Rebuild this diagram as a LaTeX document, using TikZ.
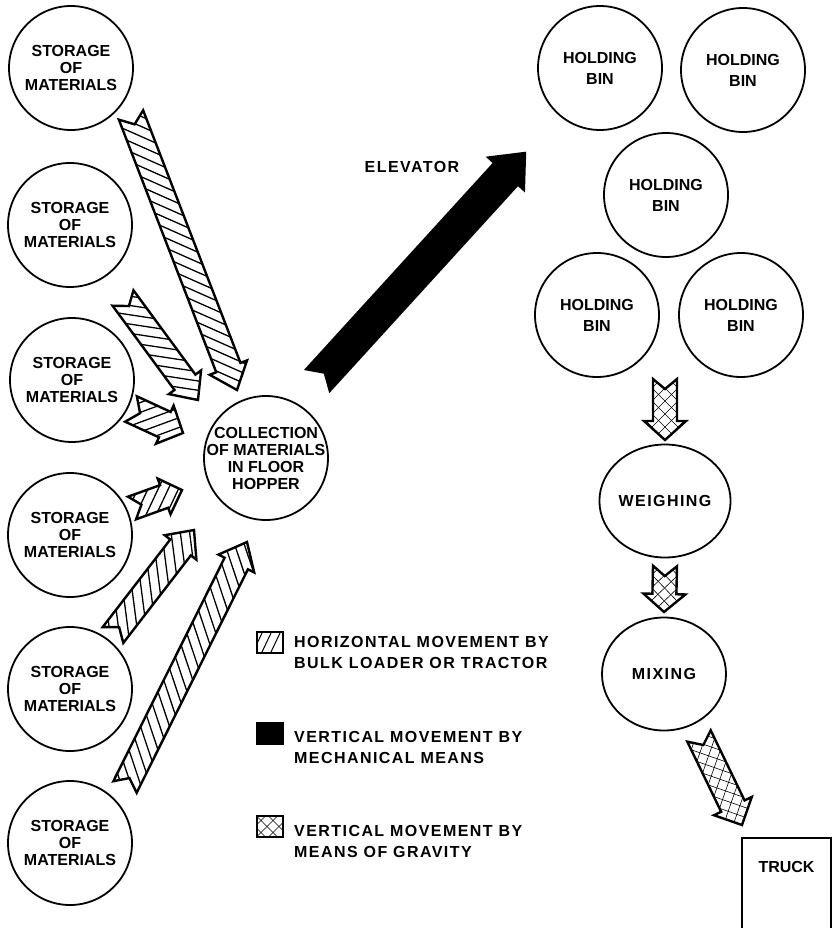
\documentclass[tikz,border=0pt]{standalone}
\usepackage{fontspec}
\newfontfamily\lettering{Liberation Sans}
\newfontfamily\spaced{Liberation Sans}[LetterSpace=9]
\usetikzlibrary{shapes.geometric}

\tikzset{
  word/.style={align=center, inner sep=0pt, font=\lettering\bfseries\fontsize{16}{17}\selectfont},
  store/.style={word, circle, draw, line width=1.8pt, minimum size=124pt},
  stage/.style={ellipse, draw, line width=1.8pt, minimum width=124pt, minimum height=113pt,
                inner sep=0pt, font=\spaced\bfseries\fontsize{16}{17}\selectfont},
  keybox/.style={draw, line width=2pt, minimum width=26pt, minimum height=21pt, inner sep=0pt},
  keytext/.style={align=left, inner sep=0pt, font=\spaced\bfseries\fontsize{16}{21}\selectfont},
  rim/.style={line width=2.4pt, line join=miter},
  hatchline/.style={line width=1.3pt},
  gridline/.style={line width=0.6pt}
}

% fillings for the big arrows (local frame, arrow along x)
\def\hatchfill{\foreach \t in {-60,-47,...,400} \draw[hatchline] (\t pt,-30pt) -- ++(60pt,60pt);}
\def\crossfill{\foreach \t in {-60,-47,...,400} {\draw[gridline] (\t pt,-30pt) -- ++(60pt,60pt);
                                                  \draw[gridline] (\t pt,30pt) -- ++(60pt,-60pt);}}
\def\solidfill{\fill (-10pt,-40pt) rectangle (400pt,40pt);}

% #1 filling, #2 tail, #3 tip, #4 half body, #5 half head, #6 head length
\newcommand{\flowarrow}[6]{%
  \path (#2); \pgfgetlastxy{\ax}{\ay}%
  \path (#3); \pgfgetlastxy{\bx}{\by}%
  \pgfmathsetmacro{\ang}{atan2(\by-\ay,\bx-\ax)}%
  \pgfmathsetmacro{\len}{veclen(\bx-\ax,\by-\ay)}%
  \pgfmathsetmacro{\neck}{\len-#6}%
  \def\outline{(0pt,#4pt) -- (\neck pt,#4pt) -- (\neck pt,#5pt) -- (\len pt,0pt)
    -- (\neck pt,-#5pt) -- (\neck pt,-#4pt) -- (0pt,-#4pt) -- (10pt,0pt) -- cycle}%
  \begin{scope}[shift={(\ax,\ay)},rotate=\ang]
    \begin{scope}
      \clip \outline;
      #1
    \end{scope}
    \draw[rim] \outline;
  \end{scope}}

\begin{document}
\begin{tikzpicture}[x=1pt,y=-1pt]
  \useasboundingbox[fill=white] (0,0) rectangle (834,928);

  % storage on the left
  \node[store] (s1) at (71,68)  {STORAGE\\OF\\MATERIALS};
  \node[store] (s2) at (70,225) {STORAGE\\OF\\MATERIALS};
  \node[store] (s3) at (72,380) {STORAGE\\OF\\MATERIALS};
  \node[store] (s4) at (70,535) {STORAGE\\OF\\MATERIALS};
  \node[store] (s5) at (70,689) {STORAGE\\OF\\MATERIALS};
  \node[store] (s6) at (70,843) {STORAGE\\OF\\MATERIALS};

  \node[store] (hopper) at (266,458) {};
  \node[word] (hoppertext) at (hopper) {COLLECTION\\OF MATERIALS\\IN FLOOR\\HOPPER};

  % bins, scale, mixer
  \node[store] (bin1) at (600,68)  {HOLDING\\[4pt]BIN};
  \node[store] (bin2) at (743,70)  {HOLDING\\[4pt]BIN};
  \node[store] (bin3) at (666,195) {HOLDING\\[4pt]BIN};
  \node[store] (bin4) at (597,315) {HOLDING\\[4pt]BIN};
  \node[store] (bin5) at (741,315) {HOLDING\\[4pt]BIN};
  \node[stage] (weigh) at (665,501) {WEIGHING};
  \node[stage] (mix) at (664,674) {MIXING};

  \node[word, minimum width=89pt, minimum height=58pt, anchor=north] (truck) at (786.5,838) {TRUCK};
  \draw[line width=1.8pt] ([yshift=-95pt]truck.north west) -- (truck.north west)
    -- (truck.north east) -- ([yshift=-95pt]truck.north east);

  \node[font=\spaced\bfseries\fontsize{16}{17}\selectfont] (elev) at (412,167) {ELEVATOR};

  % arrow ends
  \coordinate (a1t) at (131,115);  \coordinate (a1h) at (237,390);
  \coordinate (a2t) at (123,298);  \coordinate (a2h) at (198,400);
  \coordinate (a3t) at (131,409);  \coordinate (a3h) at (183,433);
  \coordinate (a4t) at (132,508);  \coordinate (a4h) at (182,490);
  \coordinate (a5t) at (113,635);  \coordinate (a5h) at (194,530);
  \coordinate (a6t) at (125,787);  \coordinate (a6h) at (247,542);
  \coordinate (lift t) at (318,380); \coordinate (lift h) at (525,153);
  \coordinate (g1t) at (665,379);  \coordinate (g1h) at (665,440);
  \coordinate (g2t) at (665,566);  \coordinate (g2h) at (664,612);
  \coordinate (g3t) at (699,736);  \coordinate (g3h) at (742,825);

  \flowarrow{\hatchfill}{a1t}{a1h}{13}{20}{24}
  \flowarrow{\hatchfill}{a2t}{a2h}{13}{20}{22}
  \flowarrow{\hatchfill}{a3t}{a3h}{14}{21}{20}
  \flowarrow{\hatchfill}{a4t}{a4h}{12}{19}{19}
  \flowarrow{\hatchfill}{a5t}{a5h}{13}{20}{22}
  \flowarrow{\hatchfill}{a6t}{a6h}{13}{20}{24}
  \flowarrow{\solidfill}{lift t}{lift h}{16}{24}{28}
  \flowarrow{\crossfill}{g1t}{g1h}{12}{21}{19}
  \flowarrow{\crossfill}{g2t}{g2h}{12}{21}{18}
  \flowarrow{\crossfill}{g3t}{g3h}{13}{21}{21}

  % key
  \node[keybox, path picture={\foreach \k in {-4,5,14}
      \draw[line width=1pt] ([xshift=\k pt]path picture bounding box.south west) -- ++(10pt,21pt);}]
    (keyh) at (269.5,642.5) {};
  \node[keybox, fill=black] (keyl) at (269.5,733.5) {};
  \node[keybox, path picture={\foreach \k in {-24,-12,0,12} {
      \draw[gridline] ([xshift=\k pt]path picture bounding box.south west) -- ++(21pt,21pt);
      \draw[gridline] ([xshift=\k pt]path picture bounding box.north west) -- ++(21pt,-21pt);}}]
    (keyc) at (269.5,826.5) {};
  \node[keytext, anchor=west] (keyhtext) at (294,652.5) {HORIZONTAL MOVEMENT BY\\BULK LOADER OR TRACTOR};
  \node[keytext, anchor=west] (keyltext) at (294,747.5) {VERTICAL MOVEMENT BY\\MECHANICAL MEANS};
  \node[keytext, anchor=west] (keyctext) at (294,841.5) {VERTICAL MOVEMENT BY\\MEANS OF GRAVITY};
\end{tikzpicture}
\end{document}
